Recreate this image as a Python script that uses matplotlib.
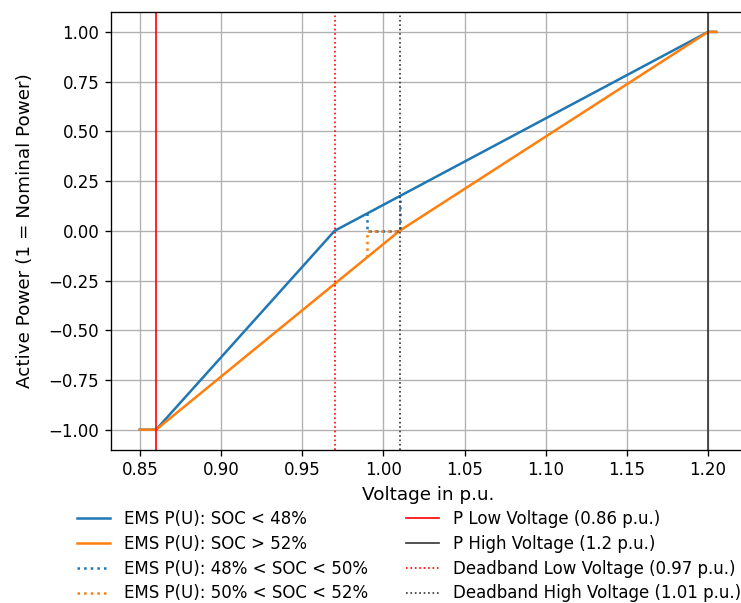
import matplotlib
matplotlib.use("Agg")
import matplotlib.pyplot as plt

# EMS P(U) characteristics (voltage in p.u., active power normalised)
u_low_soc = [0.85, 0.86, 0.97, 1.20, 1.205]
p_low_soc = [-1.0, -1.0, 0.0, 1.0, 1.0]

u_high_soc = [0.85, 0.86, 1.01, 1.20, 1.205]
p_high_soc = [-1.0, -1.0, 0.0, 1.0, 1.0]

u_mid_low = [0.99, 0.99, 1.01, 1.01]
p_mid_low = [0.087, 0.0, 0.0, 0.174]

u_mid_high = [0.99, 0.99, 1.01]
p_mid_high = [-0.133, 0.0, 0.0]

u_p_low = 0.86
u_p_high = 1.2
u_db_low = 0.97
u_db_high = 1.01

DPI = 120
fig = plt.figure(figsize=(741 / DPI, 603 / DPI), dpi=DPI)
ax = fig.add_axes([111 / 741, 1 - 449.6 / 603, 634 / 741, 437.6 / 603])

ax.plot(u_low_soc, p_low_soc, color="tab:blue", label="EMS P(U): SOC < 48%")
ax.plot(u_high_soc, p_high_soc, color="tab:orange", label="EMS P(U): SOC > 52%")
ax.plot(u_mid_low, p_mid_low, color="tab:blue", ls=":", label="EMS P(U): 48% < SOC < 50%")
ax.plot(u_mid_high, p_mid_high, color="tab:orange", ls=":", label="EMS P(U): 50% < SOC < 52%")

ax.axvline(u_p_low, color="red", lw=1, label="P Low Voltage (0.86 p.u.)")
ax.axvline(u_p_high, color="#333333", lw=1, label="P High Voltage (1.2 p.u.)")
ax.axvline(u_db_low, color="red", lw=1, ls=":", label="Deadband Low Voltage (0.97 p.u.)")
ax.axvline(u_db_high, color="#333333", lw=1, ls=":", label="Deadband High Voltage (1.01 p.u.)")

ax.grid(True)
ax.set_xlabel("Voltage in p.u.", fontsize=11)
ax.set_ylabel("Active Power (1 = Nominal Power)", fontsize=11, labelpad=9)

fig.legend(loc="upper left", bbox_to_anchor=(62 / 741, 1 - 495 / 603), ncol=2, frameon=False,
           columnspacing=2.3, labelspacing=0.41)

fig.savefig("out.png", dpi=DPI)
